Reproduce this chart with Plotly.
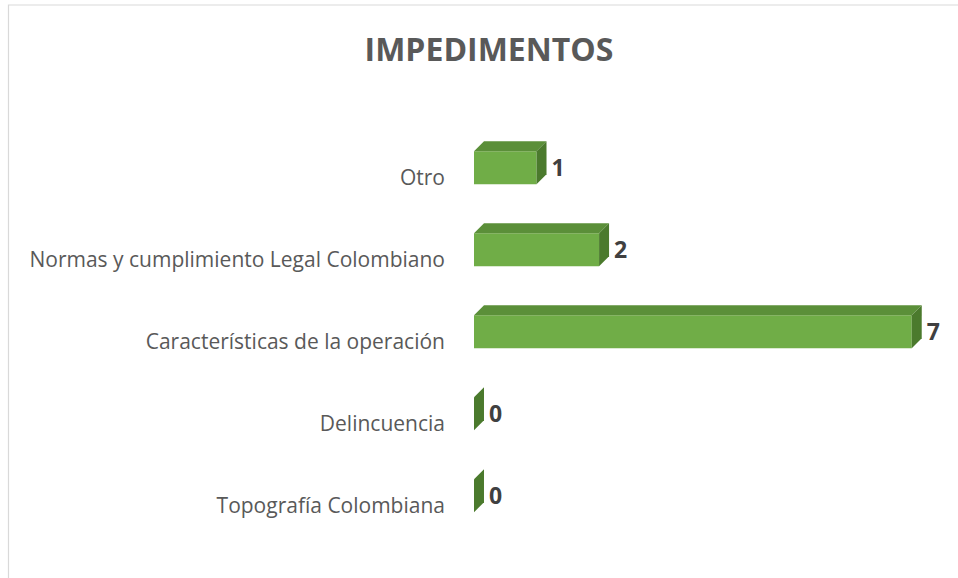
import plotly.graph_objects as go

categories = ["Topografía Colombiana", "Delincuencia", "Características de la operación",
              "Normas y cumplimiento Legal Colombiano", "Otro"]
values = [0, 0, 7, 2, 1]

FRONT = "#70AD47"
TOP = "#5B8F39"
SIDE = "#4B7A2D"

# geometry (pixel-based depth converted to data units)
X_MIN, X_MAX = 0, 7.5
Y_MIN, Y_MAX = -0.6, 4.9
L, R_PX = 474, 943.5
T, B_PX = 94, 545
px_per_x = (R_PX - L) / (X_MAX - X_MIN)
px_per_y = (B_PX - T) / (Y_MAX - Y_MIN)
dx = 10 / px_per_x
dy = 10 / px_per_y
half = 16.5 / px_per_y

pos = list(range(len(categories)))

fig = go.Figure()
fig.add_trace(go.Bar(x=values, y=pos, orientation="h", width=2 * half,
                     marker=dict(color=FRONT, line=dict(width=0)), hoverinfo="skip",
                     showlegend=False))

for p, v in zip(pos, values):
    # top face
    fig.add_trace(go.Scatter(
        x=[0, v, v + dx, dx, 0], y=[p + half, p + half, p + half + dy, p + half + dy, p + half],
        fill="toself", fillcolor=TOP, mode="lines", line=dict(width=0, color=TOP),
        hoverinfo="skip", showlegend=False))
    # side face
    fig.add_trace(go.Scatter(
        x=[v, v + dx, v + dx, v, v], y=[p - half, p - half + dy, p + half + dy, p + half, p - half],
        fill="toself", fillcolor=SIDE, mode="lines", line=dict(width=0, color=SIDE),
        hoverinfo="skip", showlegend=False))

gap = 5 / px_per_x
fig.add_trace(go.Scatter(
    x=[v + dx + gap for v in values], y=[p - 0.03 for p in pos], mode="text",
    text=[str(v) for v in values], textposition="middle right",
    textfont=dict(family="Open Sans", size=23, color="#404040", weight="bold"),
    hoverinfo="skip", showlegend=False, cliponaxis=False))

label_shift = 10 / px_per_y
fig.update_layout(
    width=958, height=578,
    margin=dict(l=L, r=958 - R_PX, t=T, b=578 - B_PX),
    paper_bgcolor="white", plot_bgcolor="white",
    title=dict(text="<b>IMPEDIMENTOS</b>", x=489 / 958, xanchor="center",
               y=1 - 50 / 578, yanchor="middle",
               font=dict(family="Open Sans", size=32, color="#595959")),
    xaxis=dict(range=[X_MIN, X_MAX], showgrid=False, zeroline=False, showticklabels=False,
               showline=False, ticks=""),
    yaxis=dict(range=[Y_MIN, Y_MAX], showgrid=False, zeroline=False, showline=False,
               tickvals=[p - label_shift for p in pos], ticktext=categories,
               ticks="", ticklabelstandoff=28,
               tickfont=dict(family="Open Sans", size=21, color="#595959")),
)

# outer chart border (top and left edges visible)
w = R_PX - L
h = B_PX - T
x0 = (8 - L) / w
y0 = (B_PX - 5) / h
fig.add_shape(type="path", xref="paper", yref="paper",
              path=f"M {x0},-0.2 L {x0},{y0} L 1.2,{y0}",
              line=dict(color="#D9D9D9", width=1.2))

fig.write_html("out.html", config={"displayModeBar": False},
               post_script="document.body.style.margin='0';")
